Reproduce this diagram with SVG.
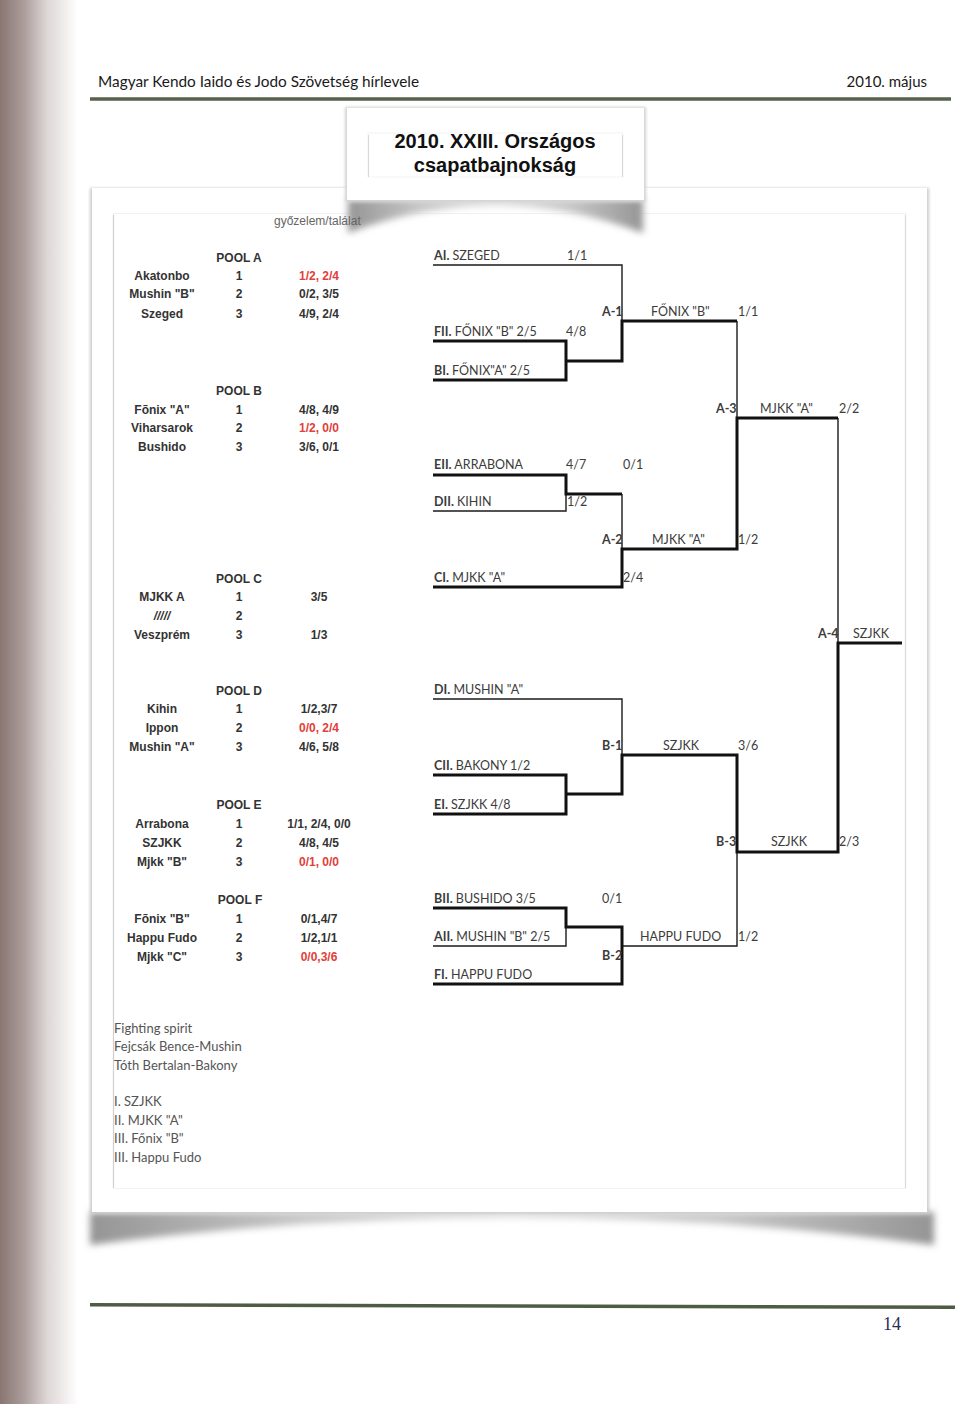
<svg xmlns="http://www.w3.org/2000/svg" width="960" height="1404" viewBox="0 0 960 1404">
<defs>
<linearGradient id="edge" x1="0" y1="0" x2="1" y2="0">
<stop offset="0" stop-color="#8a7672"/>
<stop offset="0.3" stop-color="#aa9c9a"/>
<stop offset="0.6" stop-color="#ddd6d5"/>
<stop offset="1" stop-color="#ffffff"/>
</linearGradient>
<linearGradient id="shade" x1="0" y1="0" x2="1" y2="0">
<stop offset="0" stop-color="#959595"/>
<stop offset="0.25" stop-color="#c8c8c8"/>
<stop offset="0.5" stop-color="#dadada"/>
<stop offset="0.75" stop-color="#c8c8c8"/>
<stop offset="1" stop-color="#959595"/>
</linearGradient>
<filter id="blur" x="-10%" y="-50%" width="120%" height="200%"><feGaussianBlur stdDeviation="3.5"/></filter>
<filter id="blur2" x="-10%" y="-10%" width="120%" height="120%"><feGaussianBlur stdDeviation="1.5"/></filter>
<style>
.hdr{font-family:Lato,"Open Sans",sans-serif;font-size:15px;fill:#1a1a1a}
.ttl{font-family:"Liberation Sans",Arial,sans-serif;font-weight:bold;font-size:20px;fill:#111;text-anchor:middle}
.pl{font-family:"Liberation Sans",Arial,sans-serif;font-weight:bold;font-size:12px;fill:#333;text-anchor:middle}
.red{fill:#e2403a}
.note{font-family:"Liberation Sans",Arial,sans-serif;font-size:12px;fill:#666}
.bk{font-family:Lato,"Open Sans",sans-serif;font-size:12.5px;fill:#3c3c3c}
.bk tspan.b,.b{font-weight:bold}
.ft{font-family:Lato,"Open Sans",sans-serif;font-size:13px;fill:#555}
.thin{fill:none;stroke:#1a1a1a;stroke-width:1.4}
.thick{fill:none;stroke:#111;stroke-width:3}
</style>
</defs>
<rect width="960" height="1404" fill="#ffffff"/>
<rect x="0" y="0" width="78" height="1404" fill="url(#edge)"/>

<g id="header">
<text class="hdr" x="98" y="87" textLength="321" lengthAdjust="spacingAndGlyphs">Magyar Kendo Iaido és Jodo Szövetség hírlevele</text>
<text class="hdr" x="927" y="87" text-anchor="end">2010. május</text>
<line x1="90" y1="99" x2="951" y2="99" stroke="#56624c" stroke-width="3.5"/>
</g>

<g id="card">
<path d="M90 1212 L934 1212 L934 1245 Q512 1190 90 1245 Z" fill="url(#shade)" filter="url(#blur)"/>
<rect x="90" y="188" width="839" height="1026" fill="#cccccc" filter="url(#blur2)"/>
<rect x="92" y="188" width="835" height="1024" fill="#ffffff"/>
<rect x="113.5" y="213.5" width="792" height="975" fill="none" stroke="#f2f2f2" stroke-width="1"/>
<line x1="113.5" y1="215" x2="113.5" y2="1188" stroke="#cfcfcf" stroke-width="1.2"/>
<line x1="905.5" y1="215" x2="905.5" y2="1188" stroke="#dadada" stroke-width="1.2"/>
</g>

<g id="title">
<path d="M348 199 L643 199 L643 233 Q495 178 348 233 Z" fill="url(#shade)" filter="url(#blur)"/>
<rect x="345" y="107" width="301" height="95" fill="#d2d2d2" filter="url(#blur2)"/>
<rect x="347" y="108" width="297" height="92" fill="#ffffff"/>
<rect x="368" y="133" width="255" height="44" fill="none" stroke="#f3f3f3" stroke-width="1"/>
<line x1="368.5" y1="135" x2="368.5" y2="177" stroke="#d8d8d8" stroke-width="1"/>
<line x1="622.5" y1="135" x2="622.5" y2="177" stroke="#d8d8d8" stroke-width="1"/>
<text class="ttl" x="495" y="148">2010. XXIII. Országos</text>
<text class="ttl" x="495" y="172">csapatbajnokság</text>
</g>

<text class="note" x="274" y="225">győzelem/találat</text>

<g id="pool-a">
<text class="pl" x="239" y="262">POOL A</text>
<text class="pl" x="162" y="280">Akatonbo</text><text class="pl" x="239" y="280">1</text><text class="pl red" x="319" y="280">1/2, 2/4</text>
<text class="pl" x="162" y="298">Mushin "B"</text><text class="pl" x="239" y="298">2</text><text class="pl" x="319" y="298">0/2, 3/5</text>
<text class="pl" x="162" y="318">Szeged</text><text class="pl" x="239" y="318">3</text><text class="pl" x="319" y="318">4/9, 2/4</text>
</g>
<g id="pool-b">
<text class="pl" x="239" y="395">POOL B</text>
<text class="pl" x="162" y="414">Fõnix "A"</text><text class="pl" x="239" y="414">1</text><text class="pl" x="319" y="414">4/8, 4/9</text>
<text class="pl" x="162" y="432">Viharsarok</text><text class="pl" x="239" y="432">2</text><text class="pl red" x="319" y="432">1/2, 0/0</text>
<text class="pl" x="162" y="451">Bushido</text><text class="pl" x="239" y="451">3</text><text class="pl" x="319" y="451">3/6, 0/1</text>
</g>
<g id="pool-c">
<text class="pl" x="239" y="583">POOL C</text>
<text class="pl" x="162" y="601">MJKK A</text><text class="pl" x="239" y="601">1</text><text class="pl" x="319" y="601">3/5</text>
<text class="pl" x="162" y="620" font-style="italic" font-weight="normal">/////</text><text class="pl" x="239" y="620">2</text>
<text class="pl" x="162" y="639">Veszprém</text><text class="pl" x="239" y="639">3</text><text class="pl" x="319" y="639">1/3</text>
</g>
<g id="pool-d">
<text class="pl" x="239" y="695">POOL D</text>
<text class="pl" x="162" y="713">Kihin</text><text class="pl" x="239" y="713">1</text><text class="pl" x="319" y="713">1/2,3/7</text>
<text class="pl" x="162" y="732">Ippon</text><text class="pl" x="239" y="732">2</text><text class="pl red" x="319" y="732">0/0, 2/4</text>
<text class="pl" x="162" y="751">Mushin "A"</text><text class="pl" x="239" y="751">3</text><text class="pl" x="319" y="751">4/6, 5/8</text>
</g>
<g id="pool-e">
<text class="pl" x="239" y="809">POOL E</text>
<text class="pl" x="162" y="828">Arrabona</text><text class="pl" x="239" y="828">1</text><text class="pl" x="319" y="828">1/1, 2/4, 0/0</text>
<text class="pl" x="162" y="847">SZJKK</text><text class="pl" x="239" y="847">2</text><text class="pl" x="319" y="847">4/8, 4/5</text>
<text class="pl" x="162" y="866">Mjkk "B"</text><text class="pl" x="239" y="866">3</text><text class="pl red" x="319" y="866">0/1, 0/0</text>
</g>
<g id="pool-f">
<text class="pl" x="240" y="904">POOL F</text>
<text class="pl" x="162" y="923">Fõnix "B"</text><text class="pl" x="239" y="923">1</text><text class="pl" x="319" y="923">0/1,4/7</text>
<text class="pl" x="162" y="942">Happu Fudo</text><text class="pl" x="239" y="942">2</text><text class="pl" x="319" y="942">1/2,1/1</text>
<text class="pl" x="162" y="961">Mjkk "C"</text><text class="pl" x="239" y="961">3</text><text class="pl red" x="319" y="961">0/0,3/6</text>
</g>

<g id="connectors">
<path class="thin" d="M433 265 H622 V321"/>
<path class="thin" d="M737 321 V418"/>
<path class="thin" d="M433 511 H566 V494"/>
<path class="thin" d="M622 494 V549"/>
<path class="thin" d="M838 418 V643"/>
<path class="thin" d="M433 699 H622 V755"/>
<path class="thin" d="M737 852 V946 H622"/>
<path class="thin" d="M433 946 H566 V927"/>
<path class="thick" d="M433 341 H566 V380 H433"/>
<path class="thick" d="M566 361 H622 V321 H737"/>
<path class="thick" d="M433 475 H566 V494 H622"/>
<path class="thick" d="M838 418 H737 V549 H622 V587 H433"/>
<path class="thick" d="M902 643 H838 V852 H737 V755 H622 V794 H566"/>
<path class="thick" d="M433 775 H566 V814 H433"/>
<path class="thick" d="M433 908 H566 V927 H622 V984 H433"/>
</g>

<g id="bracket-labels" class="bk">
<g id="n-ai"><text x="434" y="260"><tspan class="b">AI.</tspan> SZEGED</text><text x="567" y="260">1/1</text></g>
<g id="n-fii"><text x="434" y="336"><tspan class="b">FII.</tspan> FŐNIX "B" 2/5</text><text x="566" y="336">4/8</text></g>
<g id="n-bi"><text x="434" y="375"><tspan class="b">BI.</tspan> FŐNIX"A" 2/5</text></g>
<g id="n-a1"><text class="b" x="602" y="316">A-1</text><text x="651" y="316">FŐNIX "B"</text><text x="738" y="316">1/1</text></g>
<g id="n-a3"><text class="b" x="716" y="413">A-3</text><text x="760" y="413">MJKK "A"</text><text x="839" y="413">2/2</text></g>
<g id="n-eii"><text x="434" y="469"><tspan class="b">EII.</tspan> ARRABONA</text><text x="566" y="469">4/7</text><text x="623" y="469">0/1</text></g>
<g id="n-dii"><text x="434" y="506"><tspan class="b">DII.</tspan> KIHIN</text><text x="567" y="506">1/2</text></g>
<g id="n-a2"><text class="b" x="602" y="544">A-2</text><text x="652" y="544">MJKK "A"</text><text x="738" y="544">1/2</text></g>
<g id="n-ci"><text x="434" y="582"><tspan class="b">CI.</tspan> MJKK "A"</text><text x="623" y="582">2/4</text></g>
<g id="n-a4"><text class="b" x="818" y="638">A-4</text><text x="853" y="638">SZJKK</text></g>
<g id="n-di"><text x="434" y="694"><tspan class="b">DI.</tspan> MUSHIN "A"</text></g>
<g id="n-b1"><text class="b" x="602" y="750">B-1</text><text x="663" y="750">SZJKK</text><text x="738" y="750">3/6</text></g>
<g id="n-cii"><text x="434" y="770"><tspan class="b">CII.</tspan> BAKONY 1/2</text></g>
<g id="n-ei"><text x="434" y="809"><tspan class="b">EI.</tspan> SZJKK 4/8</text></g>
<g id="n-b3"><text class="b" x="716" y="846">B-3</text><text x="771" y="846">SZJKK</text><text x="839" y="846">2/3</text></g>
<g id="n-bii"><text x="434" y="903"><tspan class="b">BII.</tspan> BUSHIDO 3/5</text><text x="602" y="903">0/1</text></g>
<g id="n-aii"><text x="434" y="941"><tspan class="b">AII.</tspan> MUSHIN "B" 2/5</text><text x="640" y="941">HAPPU FUDO</text><text x="738" y="941">1/2</text></g>
<g id="n-b2"><text class="b" x="602" y="960">B-2</text></g>
<g id="n-fi"><text x="434" y="979"><tspan class="b">FI.</tspan> HAPPU FUDO</text></g>
</g>

<g id="notes" class="ft">
<text x="114" y="1033">Fighting spirit</text>
<text x="114" y="1051">Fejcsák Bence-Mushin</text>
<text x="114" y="1070">Tóth Bertalan-Bakony</text>
<text x="114" y="1106">I. SZJKK</text>
<text x="114" y="1125">II. MJKK "A"</text>
<text x="114" y="1143">III. Főnix "B"</text>
<text x="114" y="1162">III. Happu Fudo</text>
</g>

<g id="footer">
<path d="M90 1303 L955 1305.5 L955 1309 L90 1306.5 Z" fill="#4f5c45"/>
<text x="883" y="1330" font-family="'Liberation Serif',serif" font-size="18" fill="#2b2b55">14</text>
</g>
</svg>
